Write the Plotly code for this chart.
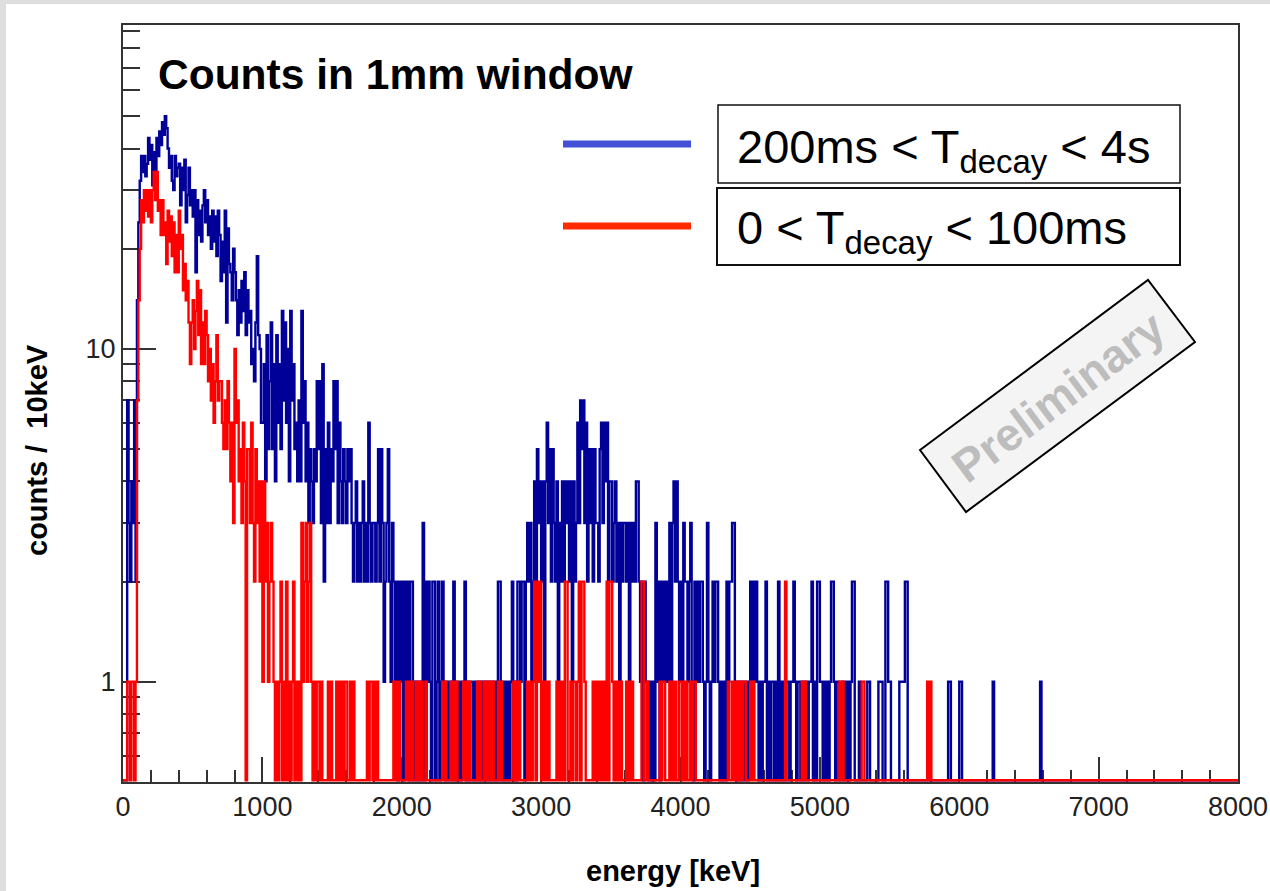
import numpy as np
import plotly.graph_objects as go

# ---------------- data: counts per 10 keV bin ----------------
bin_width_keV = 10
energy_min_keV = 0
energy_max_keV = 8000

# 200ms < T_decay < 4s  (blue)
blue_0000_1000 = [0,0,0,7,3,2,4,3,7,2,
                  14,24,32,38,34,38,33,36,43,37,
                  41,31,39,34,43,38,45,41,48,44,
                  50,46,40,35,38,32,30,38,33,35,
                  36,27,35,30,37,24,29,35,27,30,
                  25,30,17,28,22,26,21,27,30,24,
                  28,22,25,20,26,21,25,19,26,22,
                  16,21,17,26,12,23,18,17,14,20,
                  17,14,11,15,12,16,13,17,11,15,
                  12,13,9,10,8,12,19,11,10,6]
blue_1000_2000 = [6,9,4,11,5,8,12,5,9,4,
                  11,6,9,5,13,7,12,6,10,4,
                  13,7,9,5,6,4,7,4,13,6,
                  8,4,6,3,5,4,3,5,4,8,
                  5,8,3,9,2,5,3,6,3,5,
                  4,8,5,8,3,6,4,3,5,4,
                  3,5,4,5,3,2,3,4,2,3,
                  2,3,4,2,3,2,6,3,2,3,
                  3,2,3,5,2,5,3,1,2,3,
                  5,2,1,3,2,1,2,0,2,1]
blue_2000_3000 = [2,0,2,1,2,0,2,2,0,1,
                  0,1,0,1,0,3,0,2,1,2,
                  1,0,2,2,0,1,2,0,1,2,
                  1,0,1,0,1,1,0,2,0,1,
                  0,1,0,1,1,2,0,1,0,1,
                  1,0,1,0,1,0,1,0,1,1,
                  0,1,0,1,0,1,0,1,0,2,
                  2,0,1,0,1,0,1,0,1,2,
                  0,1,0,2,2,1,2,2,0,2,
                  3,2,3,1,2,4,2,5,3,4]
blue_3000_4000 = [2,4,1,4,6,3,5,2,5,3,
                  2,4,1,3,2,4,2,4,3,4,
                  2,4,1,4,2,3,6,3,7,5,
                  7,3,6,2,5,3,5,2,5,3,
                  3,2,5,6,3,6,4,6,2,4,
                  4,2,3,4,2,3,1,3,2,3,
                  3,2,3,1,3,2,3,2,4,4,
                  2,1,2,0,2,1,1,0,1,0,
                  1,0,3,1,2,0,2,1,2,1,
                  2,1,3,1,3,4,2,4,2,1]
blue_4000_5000 = [2,1,3,2,2,1,2,3,1,0,
                  2,1,2,1,2,2,1,0,1,3,
                  1,0,1,2,1,2,2,1,0,1,
                  0,1,0,2,1,2,2,3,3,1,
                  0,1,0,1,0,1,0,1,0,1,
                  2,1,2,1,2,1,0,1,0,1,
                  1,2,0,1,0,1,1,0,1,0,
                  2,0,1,0,1,0,1,1,0,1,
                  1,2,1,0,1,1,0,1,0,1,
                  1,0,1,1,2,0,1,0,2,2]
blue_5000_6000 = [1,1,0,1,0,1,0,1,2,2,
                  1,0,1,1,0,0,1,0,1,0,
                  1,0,1,2,2,0,0,0,1,0,
                  0,0,0,0,1,1,0,0,0,0,
                  0,0,1,1,1,0,0,2,2,1,
                  1,0,0,0,0,0,0,1,1,1,
                  1,2,2,0,0,0,0,0,0,0,
                  0,0,0,0,0,0,0,0,0,0,
                  0,0,0,0,0,0,0,0,0,0,
                  0,0,1,1,0,0,0,0,0,0]
blue_6000_7000 = [1,1,0,0,0,0,0,0,0,0,
                  0,0,0,0,0,0,0,0,0,0,
                  0,0,0,0,1,0,0,0,0,0,
                  0,0,0,0,0,0,0,0,0,0,
                  0,0,0,0,0,0,0,0,0,0,
                  0,0,0,0,0,0,0,0,1,0,
                  0,0,0,0,0,0,0,0,0,0,
                  0,0,0,0,0,0,0,0,0,0,
                  0,0,0,0,0,0,0,0,0,0,
                  0,0,0,0,0,0,0,0,0,0]
blue_7000_8000 = [0,0,0,0,0,0,0,0,0,0,
                  0,0,0,0,0,0,0,0,0,0,
                  0,0,0,0,0,0,0,0,0,0,
                  0,0,0,0,0,0,0,0,0,0,
                  0,0,0,0,0,0,0,0,0,0,
                  0,0,0,0,0,0,0,0,0,0,
                  0,0,0,0,0,0,0,0,0,0,
                  0,0,0,0,0,0,0,0,0,0,
                  0,0,0,0,0,0,0,0,0,0,
                  0,0,0,0,0,0,0,0,0,0]

# 0 < T_decay < 100ms  (red)
red_0000_1000 = [0,0,0,1,1,0,1,1,0,1,
                 7,14,20,28,24,30,26,30,25,30,
                 24,30,34,28,34,26,28,22,28,22,
                 24,18,26,21,25,19,24,17,22,17,
                 26,20,22,15,18,14,16,12,9,12,
                 14,10,13,16,11,15,9,12,9,13,
                 11,8,10,7,9,6,8,11,7,8,
                 8,6,5,7,5,8,6,4,6,3,
                 10,6,7,4,5,3,6,4,0,5,
                 5,3,6,3,2,5,3,4,2,4]
red_1000_2000 = [1,4,2,3,1,2,3,2,1,0,
                 1,0,1,2,0,1,0,2,0,1,
                 0,1,2,0,1,0,1,0,3,1,
                 2,3,1,2,3,1,0,1,0,1,
                 1,0,1,0,0,0,0,1,0,1,
                 0,0,0,1,0,1,0,1,0,1,
                 1,0,0,1,0,1,0,0,0,0,
                 0,0,0,0,0,1,0,1,1,0,
                 1,0,1,0,0,0,0,0,0,0,
                 0,0,0,0,1,0,1,0,1,0]
red_2000_3000 = [0,0,0,1,0,1,0,1,0,0,
                 1,0,1,0,1,0,0,1,0,0,
                 0,0,0,0,0,0,0,0,0,1,
                 0,1,0,0,0,1,0,1,0,1,
                 0,0,0,0,1,0,1,0,1,0,
                 0,0,0,0,1,0,1,0,0,1,
                 0,1,0,1,0,1,0,0,0,1,
                 0,1,0,0,0,0,0,0,0,0,
                 1,0,1,0,1,0,0,0,0,0,
                 1,0,1,0,1,2,0,2,1,2]
red_3000_4000 = [0,1,0,1,0,1,0,0,0,0,
                 0,1,0,1,0,1,0,2,2,0,
                 0,1,0,1,1,0,1,2,0,2,
                 2,1,0,0,0,0,0,1,0,1,
                 0,1,0,1,0,1,0,2,0,2,
                 2,1,0,1,0,1,0,1,0,0,
                 0,1,0,1,0,1,0,0,0,0,
                 0,0,2,2,0,0,1,0,0,0,
                 0,0,0,0,0,1,0,1,1,0,
                 0,0,1,0,1,0,1,0,0,1]
red_4000_5000 = [1,0,1,0,1,0,0,1,0,1,
                 1,0,0,0,0,0,0,0,0,0,
                 0,0,0,0,0,0,0,0,0,0,
                 0,0,0,0,1,0,0,1,0,1,
                 0,1,0,1,0,1,1,0,0,0,
                 1,0,1,0,0,0,0,0,0,0,
                 0,0,0,0,0,0,0,0,0,0,
                 0,0,0,0,0,2,0,0,0,0,
                 0,0,0,0,0,0,0,1,0,1,
                 0,0,0,0,0,0,0,0,0,0]
red_5000_6000 = [0,0,0,0,0,0,0,0,0,0,
                 0,0,0,0,1,0,1,0,0,0,
                 0,0,0,0,0,0,0,0,0,0,
                 1,1,0,0,0,0,0,0,0,0,
                 0,0,0,0,0,0,0,0,0,0,
                 0,0,0,0,0,0,0,0,0,0,
                 0,0,0,0,0,0,0,0,0,0,
                 0,0,0,0,0,0,0,1,0,1,
                 0,0,0,0,0,0,0,0,0,0,
                 0,0,0,0,0,0,0,0,0,0]
red_6000_7000 = [0,0,0,0,0,0,0,0,0,0,
                 0,0,0,0,0,0,0,0,0,0,
                 0,0,0,0,0,0,0,0,0,0,
                 0,0,0,0,0,0,0,0,0,0,
                 0,0,0,0,0,0,0,0,0,0,
                 0,0,0,0,0,0,0,0,0,0,
                 0,0,0,0,0,0,0,0,0,0,
                 0,0,0,0,0,0,0,0,0,0,
                 0,0,0,0,0,0,0,0,0,0,
                 0,0,0,0,0,0,0,0,0,0]
red_7000_8000 = [0,0,0,0,0,0,0,0,0,0,
                 0,0,0,0,0,0,0,0,0,0,
                 0,0,0,0,0,0,0,0,0,0,
                 0,0,0,0,0,0,0,0,0,0,
                 0,0,0,0,0,0,0,0,0,0,
                 0,0,0,0,0,0,0,0,0,0,
                 0,0,0,0,0,0,0,0,0,0,
                 0,0,0,0,0,0,0,0,0,0,
                 0,0,0,0,0,0,0,0,0,0,
                 0,0,0,0,0,0,0,0,0,0]

x_tick_values = [0, 1000, 2000, 3000, 4000, 5000, 6000, 7000, 8000]
y_tick_values = [1, 10]
y_tick_labels = ["1", "10"]
y_minor_values = [0.6, 0.7, 0.8, 0.9, 2, 3, 4, 5, 6, 7, 8, 9,
                  20, 30, 40, 50, 60, 70, 80, 90]
y_min, y_max = 0.5, 94

title_text = "Counts in 1mm window"
legend_blue = "200ms &lt; T<sub>decay</sub> &lt; 4s"
legend_red = "0 &lt; T<sub>decay</sub> &lt; 100ms"
x_title = "energy [keV]"
y_title = "counts /\u00a0\u00a010keV"
stamp_text = "Preliminary"

# ---------------- build ----------------
blue_counts = (blue_0000_1000 + blue_1000_2000 + blue_2000_3000 + blue_3000_4000 +
               blue_4000_5000 + blue_5000_6000 + blue_6000_7000 + blue_7000_8000)
red_counts = (red_0000_1000 + red_1000_2000 + red_2000_3000 + red_3000_4000 +
              red_4000_5000 + red_5000_6000 + red_6000_7000 + red_7000_8000)

edges = np.arange(energy_min_keV, energy_max_keV + bin_width_keV, bin_width_keV)
floor_val = y_min * 1.012  # empty bins drawn on the lower frame edge (log axis)


def step_xy(counts):
    ys = [c if c > 0 else floor_val for c in counts]
    return list(edges), ys + [ys[-1]]


W, H = 1270, 891
L, R, T, B = 123, 32, 25, 109
PW, PH = W - L - R, H - T - B


def px(x):
    return (x - L) / PW


def py(y):
    return (H - B - y) / PH


fig = go.Figure()
bx, by = step_xy(blue_counts)
rx, ry = step_xy(red_counts)
fig.add_trace(go.Scatter(x=bx, y=by, mode="lines", line=dict(color="#000099", width=2.4, shape="hv"),
                         showlegend=False, hoverinfo="skip"))
fig.add_trace(go.Scatter(x=rx, y=ry, mode="lines", line=dict(color="#ff0000", width=2.4, shape="hv"),
                         showlegend=False, hoverinfo="skip"))

axis_col = "#333333"
fig.update_xaxes(range=[energy_min_keV, energy_max_keV], tickmode="array", tickvals=x_tick_values,
                 ticks="inside", ticklen=25, tickwidth=1.5, tickcolor=axis_col,
                 minor=dict(dtick=200, tick0=0, ticks="inside", ticklen=12, tickwidth=1.5, tickcolor=axis_col),
                 showline=True, mirror=True, linecolor=axis_col, linewidth=2,
                 showgrid=False, zeroline=False, layer="below traces", automargin=False,
                 tickfont=dict(family="Liberation Sans, Arial", size=27, color="#222222"))
fig.update_yaxes(type="log", range=[np.log10(y_min), np.log10(y_max)], tickmode="array",
                 tickvals=y_tick_values, ticktext=y_tick_labels,
                 ticks="inside", ticklen=33, tickwidth=1.5, tickcolor=axis_col,
                 minor=dict(tickmode="array", tickvals=y_minor_values, ticks="inside", ticklen=17,
                            tickwidth=1.5, tickcolor=axis_col),
                 showline=True, mirror=True, linecolor=axis_col, linewidth=2,
                 showgrid=False, zeroline=False, layer="below traces", ticklabelstandoff=0,
                 automargin=False,
                 tickfont=dict(family="Liberation Sans, Arial", size=27, color="#222222"))

shapes = []
# page background with grey strip on top/left
shapes.append(dict(type="rect", xref="paper", yref="paper", layer="below",
                   x0=px(6), x1=px(W + 5), y0=py(H + 5), y1=py(4),
                   fillcolor="white", line=dict(width=0)))
# legend boxes
shapes.append(dict(type="rect", xref="paper", yref="paper", x0=px(718), x1=px(1180), y0=py(183), y1=py(105),
                   line=dict(color="#111111", width=1.5), fillcolor="rgba(0,0,0,0)"))
shapes.append(dict(type="rect", xref="paper", yref="paper", x0=px(717), x1=px(1180), y0=py(265), y1=py(188),
                   line=dict(color="#111111", width=2), fillcolor="rgba(0,0,0,0)"))
# legend lines
shapes.append(dict(type="line", xref="paper", yref="paper", x0=px(563), x1=px(691), y0=py(144), y1=py(144),
                   line=dict(color="#4252d6", width=7)))
shapes.append(dict(type="line", xref="paper", yref="paper", x0=px(563), x1=px(691), y0=py(226), y1=py(226),
                   line=dict(color="#ff2a00", width=7)))
# preliminary stamp
corners = [(920, 450), (1148, 280), (1195, 342), (966, 512)]
path = "M " + " L ".join(f"{px(a):.5f},{py(b):.5f}" for a, b in corners) + " Z"
shapes.append(dict(type="path", xref="paper", yref="paper", path=path,
                   fillcolor="#f4f4f4", line=dict(color="black", width=2)))

annotations = [
    dict(text=f"<b>{title_text}</b>", x=px(156), y=py(74), xref="paper", yref="paper",
         xanchor="left", yanchor="middle", showarrow=False,
         font=dict(family="Liberation Sans, Arial", size=42.5, color="black")),
    dict(text=legend_blue, x=px(735), y=py(150), xref="paper", yref="paper",
         xanchor="left", yanchor="middle", showarrow=False,
         font=dict(family="Liberation Sans, Arial", size=47, color="black")),
    dict(text=legend_red, x=px(735), y=py(231), xref="paper", yref="paper",
         xanchor="left", yanchor="middle", showarrow=False,
         font=dict(family="Liberation Sans, Arial", size=47, color="black")),
    dict(text=f"<b>{stamp_text}</b>", x=px(1058), y=py(397), xref="paper", yref="paper",
         xanchor="center", yanchor="middle", showarrow=False, textangle=-36.7,
         font=dict(family="Liberation Sans, Arial", size=46, color="#bdbdbd")),
    dict(text=f"<b>{x_title}</b>", x=px(673), y=py(871), xref="paper", yref="paper",
         xanchor="center", yanchor="middle", showarrow=False,
         font=dict(family="Liberation Sans, Arial", size=29, color="black")),
    dict(text=f"<b>{y_title}</b>", x=px(37), y=py(450), xref="paper", yref="paper",
         xanchor="center", yanchor="middle", showarrow=False, textangle=-90,
         font=dict(family="Liberation Sans, Arial", size=29, color="black")),
]

fig.update_layout(width=W, height=H, margin=dict(l=L, r=R, t=T, b=B, pad=0),
                  paper_bgcolor="#dedede", plot_bgcolor="white",
                  shapes=shapes, annotations=annotations, showlegend=False)

fig.write_html("out.html")
